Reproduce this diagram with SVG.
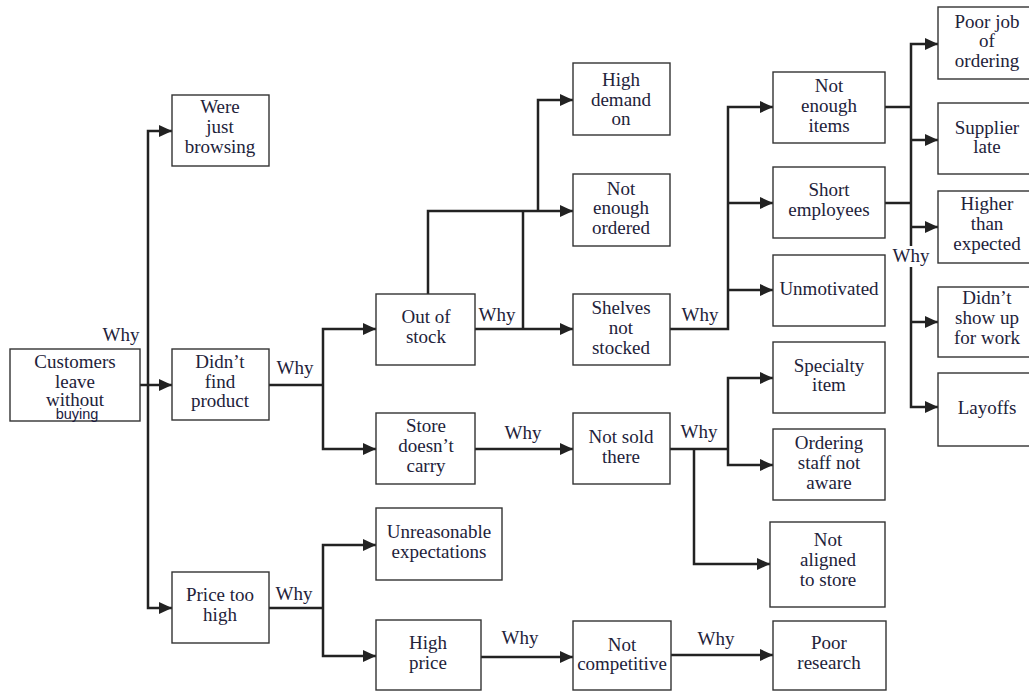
<svg xmlns="http://www.w3.org/2000/svg" width="1029" height="691" viewBox="0 0 1029 691">
  <style>
    .box { fill: #ffffff; stroke: #333333; stroke-width: 1.4; }
    .t { font-family: "Liberation Serif", "Times New Roman", serif; font-size: 19px; fill: #22223a; text-anchor: middle; }
    .why { font-family: "Liberation Serif", "Times New Roman", serif; font-size: 19px; fill: #22223a; text-anchor: middle; }
    .sans { font-family: "Liberation Sans", Arial, sans-serif; font-size: 14.5px; fill: #1a1a40; text-anchor: middle; }
    .c { fill: none; stroke: #222222; stroke-width: 2.5; stroke-linejoin: miter; stroke-linecap: butt; }
    .a { marker-end: url(#ah); }
  </style>
  <defs>
    <marker id="ah" markerWidth="14" markerHeight="12" refX="13" refY="6" orient="auto" markerUnits="userSpaceOnUse">
      <path d="M0,0 L13,6 L0,12 z" fill="#222222"/>
    </marker>
  </defs>
  <rect width="1029" height="691" fill="#ffffff"/>

  <!-- connectors -->
  <g id="connectors">
    <!-- root to first level -->
    <path class="c a" d="M140,385 H172"/>
    <path class="c a" d="M148,370 V131 H172"/>
    <path class="c a" d="M148,370 V608 H172"/>
    <!-- didn't find product -->
    <path class="c" d="M269,385 H323"/>
    <path class="c a" d="M323,385 V329 H376"/>
    <path class="c a" d="M323,385 V449 H376"/>
    <!-- out of stock -->
    <path class="c a" d="M475,329 H573"/>
    <path class="c a" d="M428,294 V211 H573"/>
    <path class="c" d="M523,329 V211"/>
    <path class="c a" d="M538,211 V100 H573"/>
    <!-- store doesn't carry -->
    <path class="c a" d="M475,449 H573"/>
    <!-- shelves not stocked -->
    <path class="c a" d="M670,329 H728 V107 H773"/>
    <path class="c a" d="M728,203 H773"/>
    <path class="c a" d="M728,290 H773"/>
    <!-- not sold there -->
    <path class="c" d="M670,449 H728"/>
    <path class="c a" d="M728,449 V378 H773"/>
    <path class="c a" d="M728,449 V465 H773"/>
    <path class="c a" d="M694,449 V564 H770"/>
    <!-- causes of not enough items / short employees -->
    <path class="c" d="M885,107 H911"/>
    <path class="c" d="M885,203 H911"/>
    <path class="c a" d="M911,246 V44 H938"/>
    <path class="c a" d="M911,140 H938"/>
    <path class="c a" d="M911,227 H938"/>
    <path class="c a" d="M911,267 V407 H938"/>
    <path class="c a" d="M911,322 H938"/>
    <!-- price too high -->
    <path class="c" d="M269,608 H323"/>
    <path class="c a" d="M323,608 V545 H376"/>
    <path class="c a" d="M323,608 V656 H376"/>
    <path class="c a" d="M481,657 H573"/>
    <path class="c a" d="M671,655 H773"/>
  </g>

  <!-- why labels -->
  <g id="why-labels">
    <text class="why" x="121" y="341">Why</text>
    <text class="why" x="295" y="374">Why</text>
    <text class="why" x="497" y="321">Why</text>
    <text class="why" x="523" y="439">Why</text>
    <text class="why" x="700" y="321">Why</text>
    <text class="why" x="699" y="438">Why</text>
    <text class="why" x="911" y="262">Why</text>
    <text class="why" x="294" y="600">Why</text>
    <text class="why" x="520" y="644">Why</text>
    <text class="why" x="716" y="645">Why</text>
  </g>

  <!-- nodes -->
  <g id="customers-leave">
    <rect class="box" x="10" y="349" width="130" height="72"/>
    <text class="t" x="75" y="368">Customers</text>
    <text class="t" x="75" y="388">leave</text>
    <text class="t" x="75" y="406">without</text>
    <text class="sans" x="77" y="419">buying</text>
  </g>
  <g id="just-browsing">
    <rect class="box" x="172" y="95" width="97" height="71"/>
    <text class="t" x="220" y="113">Were</text>
    <text class="t" x="220" y="133">just</text>
    <text class="t" x="220" y="153">browsing</text>
  </g>
  <g id="didnt-find">
    <rect class="box" x="172" y="349" width="97" height="71"/>
    <text class="t" x="220" y="368">Didn’t</text>
    <text class="t" x="220" y="388">find</text>
    <text class="t" x="220" y="407">product</text>
  </g>
  <g id="price-too-high">
    <rect class="box" x="172" y="572" width="97" height="71"/>
    <text class="t" x="220" y="601">Price too</text>
    <text class="t" x="220" y="621">high</text>
  </g>
  <g id="out-of-stock">
    <rect class="box" x="376" y="294" width="99" height="71"/>
    <text class="t" x="426" y="323">Out of</text>
    <text class="t" x="426" y="343">stock</text>
  </g>
  <g id="store-doesnt-carry">
    <rect class="box" x="376" y="413" width="99" height="71"/>
    <text class="t" x="426" y="432">Store</text>
    <text class="t" x="426" y="452">doesn’t</text>
    <text class="t" x="426" y="472">carry</text>
  </g>
  <g id="unreasonable">
    <rect class="box" x="376" y="508" width="126" height="72"/>
    <text class="t" x="439" y="538">Unreasonable</text>
    <text class="t" x="439" y="558">expectations</text>
  </g>
  <g id="high-price">
    <rect class="box" x="376" y="620" width="105" height="70"/>
    <text class="t" x="428" y="649">High</text>
    <text class="t" x="428" y="669">price</text>
  </g>
  <g id="high-demand">
    <rect class="box" x="573" y="63" width="97" height="72"/>
    <text class="t" x="621" y="86">High</text>
    <text class="t" x="621" y="106">demand</text>
    <text class="t" x="621" y="125">on</text>
  </g>
  <g id="not-enough-ordered">
    <rect class="box" x="573" y="174" width="97" height="72"/>
    <text class="t" x="621" y="195">Not</text>
    <text class="t" x="621" y="214">enough</text>
    <text class="t" x="621" y="234">ordered</text>
  </g>
  <g id="shelves-not-stocked">
    <rect class="box" x="573" y="294" width="97" height="71"/>
    <text class="t" x="621" y="314">Shelves</text>
    <text class="t" x="621" y="334">not</text>
    <text class="t" x="621" y="354">stocked</text>
  </g>
  <g id="not-sold-there">
    <rect class="box" x="573" y="413" width="97" height="71"/>
    <text class="t" x="621" y="443">Not sold</text>
    <text class="t" x="621" y="463">there</text>
  </g>
  <g id="not-competitive">
    <rect class="box" x="573" y="621" width="98" height="69"/>
    <text class="t" x="622" y="651">Not</text>
    <text class="t" x="622" y="670">competitive</text>
  </g>
  <g id="not-enough-items">
    <rect class="box" x="773" y="72" width="112" height="71"/>
    <text class="t" x="829" y="92">Not</text>
    <text class="t" x="829" y="112">enough</text>
    <text class="t" x="829" y="132">items</text>
  </g>
  <g id="short-employees">
    <rect class="box" x="773" y="167" width="112" height="71"/>
    <text class="t" x="829" y="196">Short</text>
    <text class="t" x="829" y="216">employees</text>
  </g>
  <g id="unmotivated">
    <rect class="box" x="773" y="255" width="112" height="71"/>
    <text class="t" x="829" y="295">Unmotivated</text>
  </g>
  <g id="specialty-item">
    <rect class="box" x="773" y="342" width="112" height="71"/>
    <text class="t" x="829" y="372">Specialty</text>
    <text class="t" x="829" y="391">item</text>
  </g>
  <g id="ordering-staff">
    <rect class="box" x="773" y="429" width="112" height="71"/>
    <text class="t" x="829" y="449">Ordering</text>
    <text class="t" x="829" y="469">staff not</text>
    <text class="t" x="829" y="489">aware</text>
  </g>
  <g id="not-aligned">
    <rect class="box" x="770" y="522" width="115" height="85"/>
    <text class="t" x="828" y="546">Not</text>
    <text class="t" x="828" y="566">aligned</text>
    <text class="t" x="828" y="586">to store</text>
  </g>
  <g id="poor-research">
    <rect class="box" x="773" y="621" width="113" height="69"/>
    <text class="t" x="829" y="649">Poor</text>
    <text class="t" x="829" y="669">research</text>
  </g>
  <g id="poor-job">
    <rect class="box" x="938" y="7" width="100" height="72"/>
    <text class="t" x="987" y="28">Poor job</text>
    <text class="t" x="987" y="47">of</text>
    <text class="t" x="987" y="67">ordering</text>
  </g>
  <g id="supplier-late">
    <rect class="box" x="938" y="103" width="100" height="71"/>
    <text class="t" x="987" y="134">Supplier</text>
    <text class="t" x="987" y="153">late</text>
  </g>
  <g id="higher-than-expected">
    <rect class="box" x="938" y="191" width="100" height="72"/>
    <text class="t" x="987" y="210">Higher</text>
    <text class="t" x="987" y="230">than</text>
    <text class="t" x="987" y="250">expected</text>
  </g>
  <g id="didnt-show-up">
    <rect class="box" x="938" y="287" width="100" height="70"/>
    <text class="t" x="987" y="304">Didn’t</text>
    <text class="t" x="987" y="324">show up</text>
    <text class="t" x="987" y="344">for work</text>
  </g>
  <g id="layoffs">
    <rect class="box" x="938" y="373" width="100" height="73"/>
    <text class="t" x="987" y="414">Layoffs</text>
  </g>
</svg>
